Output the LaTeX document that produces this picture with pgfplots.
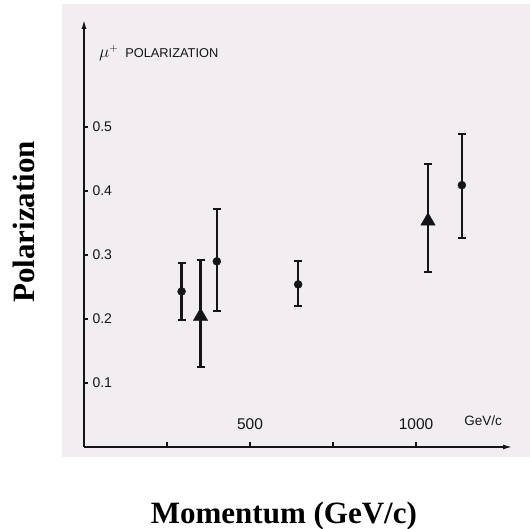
\documentclass[border=0pt]{standalone}
\usepackage{fontspec}
\setmainfont{Liberation Serif}
\newfontfamily\scanfont{Liberation Sans}
\usepackage{pgfplots}
\pgfplotsset{compat=1.18}
\usetikzlibrary{arrows.meta}
\definecolor{paper}{RGB}{241,237,240}
\definecolor{ink}{RGB}{20,20,25}
\begin{document}
\begin{tikzpicture}[x=1pt,y=1pt]
\fill[paper] (62,72) rectangle (530,525);
\begin{axis}[
  at={(84pt,82pt)}, anchor=south west,
  scale only axis, width=428pt, height=427pt,
  xmin=0, xmax=1289, ymin=0, ymax=0.667,
  axis lines=left,
  axis line style={ink, line width=1.4pt, -{Latex[length=9pt,width=5pt]}},
  tick align=inside,
  major tick length=4.5pt,
  tick style={ink, line width=1.3pt},
  xtick={250,500,750,1000},
  xticklabels={,500,,1000},
  ytick={0.1,0.2,0.3,0.4,0.5},
  yticklabels={0.1,0.2,0.3,0.4,0.5},
  xticklabel style={anchor=base, yshift=17pt, font=\scanfont\fontsize{15.5}{15.5}\selectfont, ink},
  yticklabel style={anchor=west, xshift=5pt, font=\scanfont\fontsize{14}{14}\selectfont, ink},
  xlabel={Momentum (GeV/c)},
  ylabel={Polarization},
  label style={font=\bfseries\fontsize{31}{31}\selectfont},
  xlabel style={at={(rel axis cs:0.467,-0.178)}, anchor=base},
  ylabel style={at={(rel axis cs:-0.1148,0.527)}, anchor=base},
  clip=false,
]
\addplot[only marks, mark=*, mark size=4pt, ink,
  error bars/.cd, y dir=both, y explicit,
  error bar style={line width=2.3pt, ink},
  error mark options={rotate=90, mark size=4pt, line width=2.2pt, ink}]
coordinates {
  (294,0.243) += (0,0.045) -= (0,0.045)
  (400,0.290) += (0,0.082) -= (0,0.077)
  (645,0.254) += (0,0.037) -= (0,0.034)
  (1138,0.409) += (0,0.080) -= (0,0.082)
};
\addplot[only marks, mark=triangle*, mark size=8.3pt, ink,
  error bars/.cd, y dir=both, y explicit,
  error bar style={line width=2.3pt, ink},
  error mark options={rotate=90, mark size=4pt, line width=2.2pt, ink}]
coordinates {
  (351,0.204) += (0,0.088) -= (0,0.079)
  (1036,0.353) += (0,0.089) -= (0,0.080)
};
\node[anchor=base, font=\scanfont\fontsize{13.5}{13.5}\selectfont, ink] at (axis cs:1202,0.034) {GeV/c};
\node[anchor=base west, font=\scanfont\fontsize{12.8}{12.8}\selectfont, ink, inner sep=0pt] at (axis cs:45,0.608) {{\fontsize{16}{16}\selectfont$\mu^{+}$}\hspace{7pt}POLARIZATION};
\end{axis}
\pgfresetboundingbox
\useasboundingbox (0,0) rectangle (530,529);
\end{tikzpicture}
\end{document}
